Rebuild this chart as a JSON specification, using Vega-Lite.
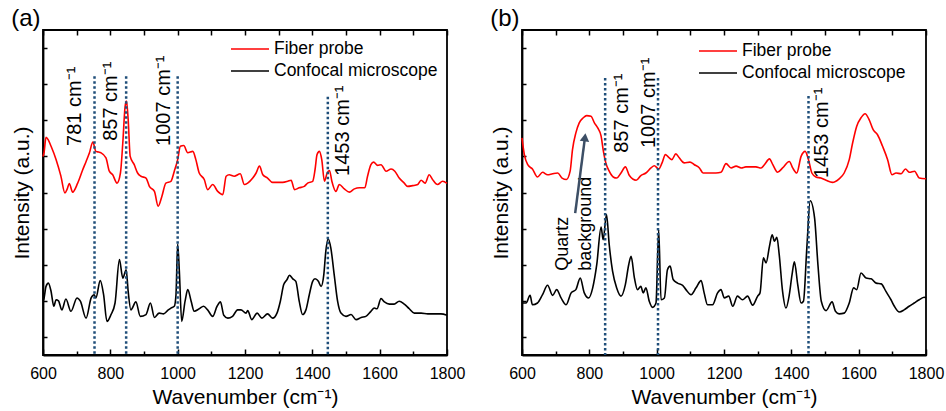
{
"$schema":"https://vega.github.io/schema/vega-lite/v6.json",
"padding":{"left":10,"top":6,"right":5,"bottom":0},
"spacing":23,
"config":{"font":"Liberation Sans","view":{"stroke":"black","strokeWidth":1.8},"axis":{"grid":false,"domainColor":"black","domainWidth":1.8,"tickColor":"black","tickWidth":1.5,"labelColor":"black","titleColor":"black","titleFontWeight":"normal","titleFont":"Liberation Sans","labelFont":"Liberation Sans"},
"legend":{"orient":"none","title":null,"symbolType":"M-1.9,0H1.9","symbolSize":400,"symbolStrokeWidth":1.6,"labelFontSize":17.5,"labelFont":"Liberation Sans","labelColor":"black","labelOffset":13,"labelLimit":0,"rowPadding":2,"padding":0}},
"datasets":{
"aRed":[{"w":600,"i":5.5},{"w":603,"i":5.6},{"w":609,"i":6.03},{"w":616,"i":5.95},{"w":624,"i":5.78},{"w":639,"i":5.41},{"w":653,"i":4.96},{"w":665,"i":4.49},{"w":672,"i":4.6},{"w":678,"i":4.75},{"w":688,"i":4.51},{"w":703,"i":4.76},{"w":718,"i":5.13},{"w":728,"i":5.36},{"w":738,"i":5.6},{"w":748,"i":5.9},{"w":757,"i":5.64},{"w":765,"i":5.62},{"w":772,"i":5.6},{"w":787,"i":5.46},{"w":797,"i":5.09},{"w":807,"i":4.99},{"w":820,"i":4.76},{"w":830,"i":5.04},{"w":837,"i":5.87},{"w":844,"i":6.89},{"w":848,"i":7.03},{"w":853,"i":6.52},{"w":859,"i":5.5},{"w":871,"i":5.27},{"w":881,"i":5.04},{"w":891,"i":4.95},{"w":906,"i":4.9},{"w":916,"i":4.67},{"w":931,"i":4.53},{"w":942,"i":4.12},{"w":953,"i":4.39},{"w":965,"i":4.76},{"w":980,"i":4.81},{"w":990,"i":5.09},{"w":1000,"i":5.41},{"w":1008,"i":5.78},{"w":1018,"i":5.8},{"w":1030,"i":5.6},{"w":1045,"i":5.64},{"w":1054,"i":5.41},{"w":1064,"i":5.04},{"w":1079,"i":4.86},{"w":1089,"i":4.58},{"w":1104,"i":4.72},{"w":1119,"i":4.53},{"w":1134,"i":4.44},{"w":1144,"i":4.95},{"w":1153,"i":4.99},{"w":1168,"i":4.95},{"w":1186,"i":5.02},{"w":1198,"i":4.72},{"w":1208,"i":4.76},{"w":1223,"i":4.9},{"w":1233,"i":5.04},{"w":1243,"i":5.23},{"w":1253,"i":4.99},{"w":1267,"i":4.9},{"w":1282,"i":4.78},{"w":1297,"i":4.78},{"w":1312,"i":4.78},{"w":1327,"i":4.81},{"w":1337,"i":4.84},{"w":1347,"i":4.58},{"w":1361,"i":4.63},{"w":1376,"i":4.67},{"w":1386,"i":4.76},{"w":1401,"i":4.81},{"w":1408,"i":5.13},{"w":1414,"i":5.55},{"w":1421,"i":5.64},{"w":1428,"i":5.41},{"w":1436,"i":4.81},{"w":1444,"i":5.04},{"w":1451,"i":5.11},{"w":1458,"i":4.81},{"w":1470,"i":4.53},{"w":1480,"i":4.72},{"w":1495,"i":4.6},{"w":1510,"i":4.51},{"w":1525,"i":4.6},{"w":1540,"i":4.63},{"w":1556,"i":4.63},{"w":1564,"i":4.95},{"w":1574,"i":5.27},{"w":1582,"i":5.34},{"w":1594,"i":5.25},{"w":1604,"i":5.27},{"w":1619,"i":5.09},{"w":1634,"i":5.15},{"w":1645,"i":5.09},{"w":1658,"i":4.9},{"w":1673,"i":4.76},{"w":1683,"i":4.67},{"w":1698,"i":4.69},{"w":1713,"i":4.72},{"w":1723,"i":4.84},{"w":1735,"i":4.76},{"w":1747,"i":4.99},{"w":1757,"i":4.86},{"w":1772,"i":4.72},{"w":1787,"i":4.81},{"w":1800,"i":4.75}],
"aBlack":[{"w":600,"i":1.5},{"w":602,"i":1.53},{"w":609,"i":1.9},{"w":616,"i":1.99},{"w":624,"i":1.76},{"w":632,"i":1.35},{"w":639,"i":1.53},{"w":646,"i":1.5},{"w":656,"i":1.25},{"w":668,"i":1.55},{"w":683,"i":1.21},{"w":701,"i":1.58},{"w":711,"i":1.49},{"w":728,"i":1.02},{"w":743,"i":1.58},{"w":752,"i":1.67},{"w":757,"i":1.58},{"w":770,"i":2.06},{"w":780,"i":1.67},{"w":790,"i":0.93},{"w":802,"i":1.12},{"w":814,"i":1.44},{"w":827,"i":2.64},{"w":837,"i":2.13},{"w":847,"i":2.36},{"w":853,"i":1.76},{"w":861,"i":1.25},{"w":876,"i":1.47},{"w":889,"i":1.07},{"w":906,"i":1.12},{"w":919,"i":1.44},{"w":931,"i":1.04},{"w":945,"i":1.16},{"w":958,"i":1.14},{"w":970,"i":1.23},{"w":980,"i":1.3},{"w":990,"i":1.35},{"w":995,"i":1.67},{"w":1000,"i":3.07},{"w":1005,"i":2.32},{"w":1012,"i":0.93},{"w":1022,"i":1.49},{"w":1030,"i":1.81},{"w":1040,"i":1.49},{"w":1049,"i":1.21},{"w":1064,"i":1.28},{"w":1077,"i":1.35},{"w":1089,"i":1.25},{"w":1104,"i":1.07},{"w":1117,"i":1.35},{"w":1127,"i":1.47},{"w":1137,"i":1.1},{"w":1149,"i":1.02},{"w":1163,"i":1.07},{"w":1178,"i":1.25},{"w":1188,"i":1.25},{"w":1203,"i":1.16},{"w":1208,"i":1.23},{"w":1220,"i":0.98},{"w":1236,"i":1.16},{"w":1250,"i":1.02},{"w":1267,"i":1.14},{"w":1282,"i":1.02},{"w":1295,"i":1.16},{"w":1305,"i":1.49},{"w":1315,"i":1.95},{"w":1325,"i":2.09},{"w":1332,"i":2.21},{"w":1342,"i":2.11},{"w":1351,"i":2.04},{"w":1361,"i":1.49},{"w":1371,"i":1.12},{"w":1381,"i":1.25},{"w":1391,"i":1.67},{"w":1401,"i":2.04},{"w":1408,"i":2.11},{"w":1418,"i":2.04},{"w":1426,"i":1.9},{"w":1434,"i":2.22},{"w":1440,"i":2.87},{"w":1447,"i":3.22},{"w":1455,"i":2.96},{"w":1465,"i":2.22},{"w":1475,"i":1.49},{"w":1485,"i":1.16},{"w":1500,"i":1.07},{"w":1515,"i":1.12},{"w":1530,"i":0.98},{"w":1545,"i":1.04},{"w":1559,"i":1.07},{"w":1574,"i":1.21},{"w":1584,"i":1.3},{"w":1592,"i":1.28},{"w":1604,"i":1.56},{"w":1614,"i":1.47},{"w":1629,"i":1.41},{"w":1643,"i":1.41},{"w":1658,"i":1.49},{"w":1673,"i":1.41},{"w":1688,"i":1.28},{"w":1703,"i":1.16},{"w":1723,"i":1.16},{"w":1743,"i":1.14},{"w":1762,"i":1.14},{"w":1782,"i":1.14},{"w":1800,"i":1.1}],
"bRed":[{"w":600,"i":6.01},{"w":607,"i":5.55},{"w":617,"i":5.27},{"w":631,"i":5.15},{"w":646,"i":4.93},{"w":661,"i":5.06},{"w":676,"i":4.99},{"w":691,"i":5.02},{"w":706,"i":5.04},{"w":719,"i":4.9},{"w":732,"i":4.86},{"w":743,"i":5.09},{"w":750,"i":5.69},{"w":760,"i":6.15},{"w":770,"i":6.43},{"w":782,"i":6.57},{"w":792,"i":6.63},{"w":805,"i":6.61},{"w":815,"i":6.43},{"w":825,"i":6.29},{"w":835,"i":6.06},{"w":841,"i":5.69},{"w":849,"i":5.32},{"w":859,"i":5.09},{"w":871,"i":4.93},{"w":881,"i":4.9},{"w":894,"i":5.04},{"w":907,"i":5.21},{"w":919,"i":4.97},{"w":939,"i":4.84},{"w":953,"i":4.97},{"w":968,"i":5.04},{"w":983,"i":5.18},{"w":993,"i":5.24},{"w":1006,"i":5.15},{"w":1016,"i":5.32},{"w":1026,"i":5.55},{"w":1035,"i":5.48},{"w":1045,"i":5.41},{"w":1057,"i":5.57},{"w":1067,"i":5.46},{"w":1082,"i":5.32},{"w":1099,"i":5.34},{"w":1112,"i":5.27},{"w":1127,"i":5.18},{"w":1138,"i":5.04},{"w":1156,"i":5.04},{"w":1176,"i":5.04},{"w":1191,"i":5.06},{"w":1206,"i":5.3},{"w":1221,"i":5.18},{"w":1236,"i":5.23},{"w":1251,"i":5.18},{"w":1265,"i":5.21},{"w":1280,"i":5.21},{"w":1295,"i":5.21},{"w":1310,"i":5.18},{"w":1320,"i":5.27},{"w":1335,"i":5.43},{"w":1345,"i":5.27},{"w":1359,"i":5.06},{"w":1374,"i":5.18},{"w":1394,"i":5.36},{"w":1404,"i":5.18},{"w":1416,"i":5.04},{"w":1429,"i":5.5},{"w":1441,"i":5.64},{"w":1451,"i":5.41},{"w":1461,"i":5.04},{"w":1473,"i":4.93},{"w":1488,"i":4.9},{"w":1503,"i":4.84},{"w":1522,"i":4.78},{"w":1542,"i":4.88},{"w":1557,"i":5.04},{"w":1572,"i":5.41},{"w":1582,"i":5.87},{"w":1594,"i":6.33},{"w":1607,"i":6.57},{"w":1619,"i":6.68},{"w":1631,"i":6.52},{"w":1643,"i":6.24},{"w":1656,"i":6.1},{"w":1671,"i":5.78},{"w":1686,"i":5.41},{"w":1699,"i":4.99},{"w":1711,"i":5.04},{"w":1726,"i":5.02},{"w":1739,"i":5.15},{"w":1751,"i":5.06},{"w":1766,"i":5.09},{"w":1780,"i":4.9},{"w":1800,"i":4.88}],
"bBlack":[{"w":600,"i":1.44},{"w":612,"i":1.44},{"w":624,"i":1.65},{"w":631,"i":1.39},{"w":646,"i":1.44},{"w":661,"i":1.67},{"w":676,"i":1.93},{"w":691,"i":1.65},{"w":703,"i":1.81},{"w":716,"i":1.58},{"w":731,"i":1.39},{"w":746,"i":1.72},{"w":760,"i":1.81},{"w":773,"i":2.13},{"w":785,"i":1.72},{"w":798,"i":1.58},{"w":810,"i":1.86},{"w":822,"i":2.5},{"w":835,"i":3.54},{"w":841,"i":3.19},{"w":851,"i":3.89},{"w":859,"i":3.06},{"w":869,"i":2.32},{"w":881,"i":1.86},{"w":894,"i":1.63},{"w":907,"i":1.95},{"w":917,"i":2.5},{"w":924,"i":2.73},{"w":934,"i":2.13},{"w":943,"i":1.81},{"w":953,"i":1.9},{"w":960,"i":1.72},{"w":968,"i":1.86},{"w":978,"i":1.49},{"w":988,"i":1.32},{"w":998,"i":1.44},{"w":1006,"i":3.47},{"w":1013,"i":1.53},{"w":1023,"i":1.58},{"w":1032,"i":2.36},{"w":1040,"i":2.46},{"w":1049,"i":2.09},{"w":1062,"i":1.99},{"w":1077,"i":1.93},{"w":1087,"i":1.81},{"w":1102,"i":1.67},{"w":1117,"i":1.86},{"w":1132,"i":2.06},{"w":1141,"i":1.72},{"w":1151,"i":1.39},{"w":1166,"i":1.39},{"w":1181,"i":1.72},{"w":1191,"i":1.81},{"w":1201,"i":1.58},{"w":1214,"i":1.63},{"w":1226,"i":1.35},{"w":1240,"i":1.63},{"w":1255,"i":1.53},{"w":1270,"i":1.63},{"w":1285,"i":1.38},{"w":1300,"i":1.63},{"w":1307,"i":1.72},{"w":1317,"i":2.69},{"w":1325,"i":2.55},{"w":1335,"i":3.01},{"w":1343,"i":3.33},{"w":1350,"i":3.15},{"w":1357,"i":3.26},{"w":1364,"i":2.78},{"w":1374,"i":1.76},{"w":1384,"i":1.3},{"w":1394,"i":1.67},{"w":1402,"i":2.22},{"w":1409,"i":2.58},{"w":1419,"i":1.95},{"w":1429,"i":1.44},{"w":1436,"i":1.49},{"w":1446,"i":2.96},{"w":1456,"i":4.27},{"w":1469,"i":3.8},{"w":1479,"i":2.5},{"w":1489,"i":1.49},{"w":1503,"i":1.23},{"w":1521,"i":1.47},{"w":1531,"i":1.21},{"w":1542,"i":1.14},{"w":1557,"i":1.16},{"w":1572,"i":1.44},{"w":1585,"i":1.86},{"w":1594,"i":1.81},{"w":1607,"i":2.27},{"w":1622,"i":2.13},{"w":1637,"i":2.11},{"w":1652,"i":1.99},{"w":1667,"i":1.97},{"w":1681,"i":1.76},{"w":1696,"i":1.53},{"w":1706,"i":1.35},{"w":1721,"i":1.19},{"w":1735,"i":1.25},{"w":1750,"i":1.35},{"w":1765,"i":1.44},{"w":1780,"i":1.53},{"w":1795,"i":1.6},{"w":1800,"i":1.58}],
"aRules":[{"w":753,"top":7.72},{"w":847,"top":7.72},{"w":1000,"top":7.72},{"w":1446,"top":7.15}],
"bRules":[{"w":847,"top":7.67},{"w":1004,"top":7.67},{"w":1451,"top":7.17}],
"aText":[{"w":695,"i":5.79,"t":"781 cm⁻¹"},{"w":802,"i":5.93,"t":"857 cm⁻¹"},{"w":960,"i":5.79,"t":"1007 cm⁻¹"},{"w":1492,"i":4.96,"t":"1453 cm⁻¹"}],
"bText":[{"w":897,"i":5.6,"t":"857 cm⁻¹"},{"w":978,"i":5.73,"t":"1007 cm⁻¹"},{"w":1491,"i":4.9,"t":"1453 cm⁻¹"}],
"bQuartz":[{"w":721,"i":2.33,"t":"Quartz"},{"w":790,"i":2.33,"t":"background"}],
"bArrow":[{"w":758,"i":3.93,"w2":786,"i2":5.95}],
"bHead":[{"w":787,"i":6.03}]
},
"hconcat":[
{"width":404,"height":325,
 "title":{"text":"(a)","anchor":"start","frame":"bounds","fontSize":24,"fontWeight":"normal","font":"Liberation Sans","offset":-2},
 "layer":[
  {"data":{"name":"aRed"},"mark":{"type":"line","strokeWidth":1.6,"interpolate":"monotone"},
   "encoding":{
    "x":{"field":"w","type":"quantitative","scale":{"domain":[600,1800],"nice":false,"zero":false},
      "axis":{"orient":"bottom","values":[600,700,800,900,1000,1100,1200,1300,1400,1500,1600,1700,1800],"format":"d","labelExpr":"datum.value % 200 === 0 ? datum.label : ''","labelFontSize":16,"labelPadding":16,"labelFlush":false,"labelOverlap":false,"tickSize":{"condition":{"test":"datum.value % 200 === 0","value":-6},"value":-4},"title":"Wavenumber (cm⁻¹)","titleFontSize":21,"titlePadding":3}},
    "y":{"field":"i","type":"quantitative","scale":{"domain":[0,9],"nice":false,"zero":false},
      "axis":{"orient":"left","values":[0.5,1,1.5,2,2.5,3,3.5,4,4.5,5,5.5,6,6.5,7,7.5,8,8.5],"labels":false,"tickSize":{"condition":{"test":"datum.value % 1 === 0","value":-7},"value":-4},"title":"Intensity (a.u.)","titleFontSize":21,"titlePadding":10}},
    "color":{"datum":"Fiber probe","type":"nominal","scale":{"domain":["Fiber probe","Confocal microscope"],"range":["#ff0000","#000000"]},"legend":{"legendX":196,"legendY":8}}}},
  {"data":{"name":"aBlack"},"mark":{"type":"line","strokeWidth":1.6,"interpolate":"monotone"},
   "encoding":{"x":{"field":"w","type":"quantitative","axis":null},"y":{"field":"i","type":"quantitative"},"color":{"datum":"Confocal microscope","type":"nominal"}}},
  {"data":{"name":"aRules"},"mark":{"type":"rule","color":"#1f4e79","strokeDash":[2.5,2.5],"strokeWidth":2.5},
   "encoding":{"x":{"field":"w","type":"quantitative","axis":{"orient":"top","values":[600,700,800,900,1000,1100,1200,1300,1400,1500,1600,1700,1800],"labels":false,"title":null,"domain":false,"tickSize":-5}},"y":{"field":"top","type":"quantitative"},"y2":{"datum":0}}},
  {"data":{"name":"aText"},"mark":{"type":"text","angle":270,"align":"left","baseline":"middle","fontSize":20,"font":"Liberation Sans","color":"black"},
   "encoding":{"x":{"field":"w","type":"quantitative","axis":null},"y":{"field":"i","type":"quantitative"},"text":{"field":"t"}}}
 ],
 "resolve":{"axis":{"x":"independent"}}
},
{"width":404,"height":325,
 "title":{"text":"(b)","anchor":"start","frame":"bounds","fontSize":24,"fontWeight":"normal","font":"Liberation Sans","offset":-2},
 "layer":[
  {"data":{"name":"bRed"},"mark":{"type":"line","strokeWidth":1.6,"interpolate":"monotone"},
   "encoding":{
    "x":{"field":"w","type":"quantitative","scale":{"domain":[600,1800],"nice":false,"zero":false},
      "axis":{"orient":"bottom","values":[600,700,800,900,1000,1100,1200,1300,1400,1500,1600,1700,1800],"format":"d","labelExpr":"datum.value % 200 === 0 ? datum.label : ''","labelFontSize":16,"labelPadding":16,"labelFlush":false,"labelOverlap":false,"tickSize":{"condition":{"test":"datum.value % 200 === 0","value":-6},"value":-4},"title":"Wavenumber (cm⁻¹)","titleFontSize":21,"titlePadding":3}},
    "y":{"field":"i","type":"quantitative","scale":{"domain":[0,9],"nice":false,"zero":false},
      "axis":{"orient":"left","values":[0.5,1,1.5,2,2.5,3,3.5,4,4.5,5,5.5,6,6.5,7,7.5,8,8.5],"labels":false,"tickSize":{"condition":{"test":"datum.value % 1 === 0","value":-7},"value":-4},"title":"Intensity (a.u.)","titleFontSize":21,"titlePadding":10}},
    "color":{"datum":"Fiber probe","type":"nominal","scale":{"domain":["Fiber probe","Confocal microscope"],"range":["#ff0000","#000000"]},"legend":{"legendX":185,"legendY":10}}}},
  {"data":{"name":"bBlack"},"mark":{"type":"line","strokeWidth":1.6,"interpolate":"monotone"},
   "encoding":{"x":{"field":"w","type":"quantitative","axis":null},"y":{"field":"i","type":"quantitative"},"color":{"datum":"Confocal microscope","type":"nominal"}}},
  {"data":{"name":"bRules"},"mark":{"type":"rule","color":"#1f4e79","strokeDash":[2.5,2.5],"strokeWidth":2.5},
   "encoding":{"x":{"field":"w","type":"quantitative","axis":{"orient":"top","values":[600,700,800,900,1000,1100,1200,1300,1400,1500,1600,1700,1800],"labels":false,"title":null,"domain":false,"tickSize":-5}},"y":{"field":"top","type":"quantitative"},"y2":{"datum":0}}},
  {"data":{"name":"bText"},"mark":{"type":"text","angle":270,"align":"left","baseline":"middle","fontSize":20,"font":"Liberation Sans","color":"black"},
   "encoding":{"x":{"field":"w","type":"quantitative","axis":null},"y":{"field":"i","type":"quantitative"},"text":{"field":"t"}}},
  {"data":{"name":"bQuartz"},"mark":{"type":"text","angle":270,"align":"left","baseline":"middle","fontSize":18,"font":"Liberation Sans","color":"black"},
   "encoding":{"x":{"field":"w","type":"quantitative","axis":null},"y":{"field":"i","type":"quantitative"},"text":{"field":"t"}}},
  {"data":{"name":"bArrow"},"mark":{"type":"rule","color":"#3d4f66","strokeWidth":2.5},
   "encoding":{"x":{"field":"w","type":"quantitative","axis":null},"y":{"field":"i","type":"quantitative"},"x2":{"field":"w2"},"y2":{"field":"i2"}}},
  {"data":{"name":"bHead"},"mark":{"type":"point","shape":"triangle-up","filled":true,"color":"#3d4f66","size":90,"angle":7,"opacity":1},
   "encoding":{"x":{"field":"w","type":"quantitative","axis":null},"y":{"field":"i","type":"quantitative"}}}
 ],
 "resolve":{"axis":{"x":"independent"}}
}
],
"resolve":{"scale":{"color":"independent"},"legend":{"color":"independent"}}
}
